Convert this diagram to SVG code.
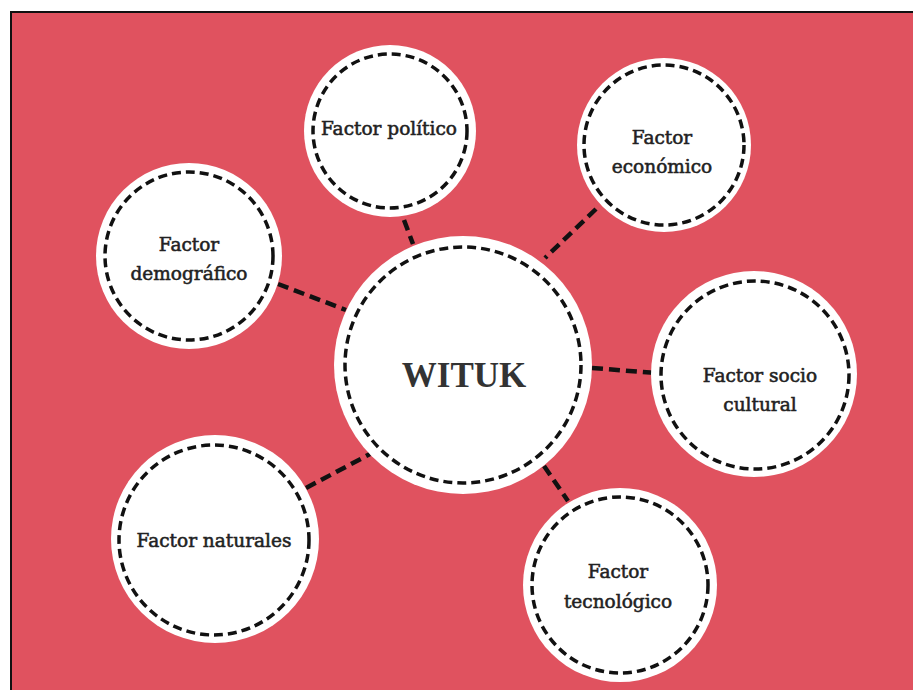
<svg xmlns="http://www.w3.org/2000/svg" width="913" height="690" viewBox="0 0 913 690">
  <style>
    .disc { fill: #ffffff; }
    .ring { fill: none; stroke: #111111; stroke-width: 3.5; stroke-dasharray: 9 5; }
    .conn { stroke: #111111; stroke-width: 4.5; stroke-dasharray: 11 6; fill: none; }
    .lbl { font-family: "DejaVu Serif", "Liberation Serif", serif; font-size: 18.5px; fill: #222222; stroke: #222222; stroke-width: 0.55; text-anchor: middle; }
    .main { font-family: "Liberation Serif", "DejaVu Serif", serif; font-weight: bold; font-size: 35px; fill: #333333; text-anchor: middle; }
  </style>
  <rect x="0" y="0" width="913" height="690" fill="#ffffff"/>
  <rect x="11" y="12" width="910" height="690" fill="#E0525F" stroke="#111111" stroke-width="2"/>

  <g id="connectors">
    <line class="conn" x1="404" y1="220" x2="413" y2="244"/>
    <line class="conn" x1="596" y1="209" x2="545" y2="258"/>
    <line class="conn" x1="278" y1="284" x2="346" y2="310"/>
    <line class="conn" x1="592" y1="368" x2="656" y2="373"/>
    <line class="conn" x1="544" y1="466" x2="568" y2="501"/>
    <line class="conn" x1="306" y1="488" x2="370" y2="454"/>
  </g>

  <g id="center">
    <circle class="disc" cx="463" cy="365" r="129"/>
    <circle class="ring" cx="463" cy="365" r="118"/>
    <text class="main" x="464" y="387">WITUK</text>
  </g>

  <g id="politico">
    <circle class="disc" cx="390" cy="131" r="86"/>
    <circle class="ring" cx="390" cy="131" r="77"/>
    <text class="lbl" x="389" y="135">Factor político</text>
  </g>

  <g id="economico">
    <circle class="disc" cx="664" cy="145" r="87"/>
    <circle class="ring" cx="664" cy="145" r="80"/>
    <text class="lbl" x="662" y="144">Factor</text>
    <text class="lbl" x="662" y="173">económico</text>
  </g>

  <g id="demografico">
    <circle class="disc" cx="189" cy="256" r="93"/>
    <circle class="ring" cx="189" cy="256" r="84"/>
    <text class="lbl" x="189" y="251">Factor</text>
    <text class="lbl" x="189" y="280">demográfico</text>
  </g>

  <g id="sociocultural">
    <circle class="disc" cx="754" cy="374" r="103"/>
    <circle class="ring" cx="755" cy="375" r="94"/>
    <text class="lbl" x="760" y="382">Factor socio</text>
    <text class="lbl" x="760" y="411">cultural</text>
  </g>

  <g id="tecnologico">
    <circle class="disc" cx="620" cy="585" r="97"/>
    <circle class="ring" cx="620" cy="585" r="88"/>
    <text class="lbl" x="618" y="578">Factor</text>
    <text class="lbl" x="618" y="608">tecnológico</text>
  </g>

  <g id="naturales">
    <circle class="disc" cx="215" cy="539" r="104"/>
    <circle class="ring" cx="214" cy="540" r="95"/>
    <text class="lbl" x="214" y="547">Factor naturales</text>
  </g>
</svg>
